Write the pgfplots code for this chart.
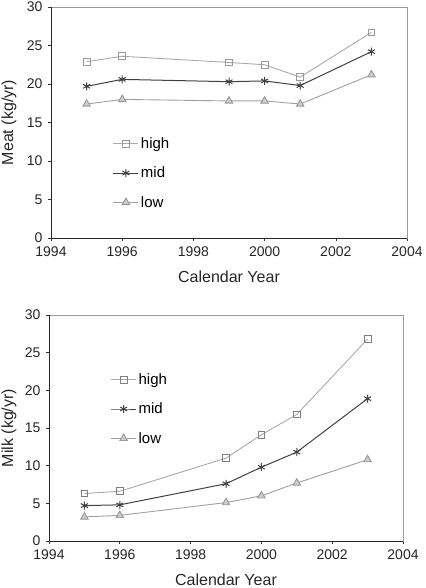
\documentclass[border=0pt]{standalone}
\usepackage{pgfplots}
\pgfplotsset{compat=1.18}
\usepackage{fontspec}
\setmainfont{Liberation Sans}
\definecolor{hicol}{HTML}{AAAAAA}
\definecolor{midcol}{HTML}{404040}
\definecolor{locol}{HTML}{A0A0A0}
\definecolor{lofill}{HTML}{CCCCCC}
\definecolor{framecol}{HTML}{999999}
\pgfplotsset{
  myaxis/.style={
    scale only axis,
    xmin=1994, xmax=2004, ymin=0, ymax=30,
    xtick={1994,1996,...,2004}, ytick={0,5,...,30},
    /pgf/number format/assume math mode=true,
    /pgf/number format/1000 sep={},
    tick label style={font=\fontsize{14}{16}\selectfont, text=black!85},
    xticklabel style={yshift=-2pt},
    yticklabel style={xshift=-2pt},
    label style={font=\fontsize{16}{18}\selectfont, text=black!85},
    xlabel style={at={(axis description cs:0.5,0)}, anchor=center, yshift=-39pt},
    tick align=outside, major tick length=3pt,
    xtick pos=bottom, ytick pos=left,
    tick style={black!80, line width=0.6pt},
    axis line style={framecol, line width=0.8pt},
    xlabel={Calendar Year},
    legend cell align=left,
    legend image code/.code={\draw[mark repeat=2,mark phase=2] plot coordinates {(0pt,0pt)(12.5pt,0pt)(25pt,0pt)};},
    legend style={draw=none, fill=none, font=\fontsize{15}{17}\selectfont, row sep=13pt,
      /tikz/every even column/.append style={column sep=4pt}},
  },
  hi/.style={color=hicol, line width=0.9pt, mark=square, mark size=3.4pt, mark options={draw=framecol, fill=white}},
  md/.style={color=midcol, line width=1pt, mark=asterisk, mark size=4pt, mark options={line width=1pt}},
  lo/.style={color=locol, line width=0.9pt, mark=triangle*, mark size=4.3pt, mark options={draw=framecol, fill=lofill}},
}
\begin{document}
\begin{tikzpicture}
\useasboundingbox (0,0) rectangle (425pt,-588pt);
\begin{axis}[myaxis, at={(51pt,-238pt)}, anchor=south west, width=356pt, height=231pt,
  ylabel={Meat (kg/yr)},
  ylabel style={at={(axis description cs:0,0.5)}, anchor=center, yshift=42pt},
  legend style={at={(axis cs:1995.65,13.6)}, anchor=north west}]
\addplot[hi] coordinates {(1995,22.9)(1996,23.6)(1999,22.8)(2000,22.5)(2001,20.9)(2003,26.7)};
\addlegendentry{high}
\addplot[md] coordinates {(1995,19.7)(1996,20.6)(1999,20.3)(2000,20.4)(2001,19.8)(2003,24.2)};
\addlegendentry{mid}
\addplot[lo] coordinates {(1995,17.4)(1996,18.0)(1999,17.8)(2000,17.8)(2001,17.4)(2003,21.2)};
\addlegendentry{low}
\draw[black!85, line width=0.8pt] (rel axis cs:0,1) -- (rel axis cs:0,0) -- (rel axis cs:1,0);
\end{axis}
\begin{axis}[myaxis, at={(49pt,-541pt)}, anchor=south west, width=354pt, height=226pt,
  ylabel={Milk (kg/yr)},
  ylabel style={at={(axis description cs:0,0.5)}, anchor=center, yshift=40pt},
  legend style={at={(axis cs:1995.65,22.8)}, anchor=north west}]
\addplot[hi, mark options={draw=gray, fill=white}] coordinates {(1995,6.3)(1996,6.6)(1999,11.0)(2000,14.1)(2001,16.8)(2003,26.8)};
\addlegendentry{high}
\addplot[md] coordinates {(1995,4.7)(1996,4.8)(1999,7.6)(2000,9.8)(2001,11.8)(2003,18.9)};
\addlegendentry{mid}
\addplot[lo] coordinates {(1995,3.2)(1996,3.4)(1999,5.1)(2000,6.0)(2001,7.7)(2003,10.8)};
\addlegendentry{low}
\draw[black!85, line width=0.8pt] (rel axis cs:0,1) -- (rel axis cs:0,0) -- (rel axis cs:1,0);
\end{axis}
\end{tikzpicture}
\end{document}
